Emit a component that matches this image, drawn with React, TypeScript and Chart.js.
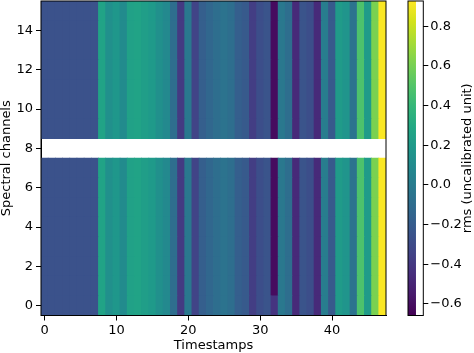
import React, { useEffect, useRef } from "react";
import { Chart, registerables } from "chart.js";
Chart.register(...registerables);

// ---- data ----
const channelCount = 16;
const missingChannel = 8;
// rms value of each timestamp (same for every spectral channel)
const rmsByTimestamp = [
  -0.26, -0.26, -0.26, -0.26, -0.26, -0.26, -0.26, -0.26,
  0.26, 0.135, 0.18, 0.1,
  0.245, 0.26, 0.23, 0.2, 0.135, 0.09,
  -0.09, -0.39, -0.025, -0.34, -0.18, -0.135,
  -0.09, -0.06, -0.09, -0.18, -0.21, -0.37,
  -0.28, -0.25, -0.61, -0.025, -0.09, -0.47,
  -0.25, -0.28, -0.47, 0.01, -0.21, 0.21,
  0.165, -0.06, 0.48, 0.21, 0.61, 0.92,
];
// channel 0 differs at a few timestamps: [timestamp, value]
const channel0Overrides = [[32, -0.42]];
const colorMin = -0.658;
const colorMax = 0.927;
const xTickValues = [0, 10, 20, 30, 40];
const yTickValues = [0, 2, 4, 6, 8, 10, 12, 14];
const cbTickValues = [-0.6, -0.4, -0.2, 0, 0.2, 0.4, 0.6, 0.8];
const xLabel = "Timestamps";
const yLabel = "Spectral channels";
const cbLabel = "rms (uncalibrated unit)";

const VIRIDIS = [
  "#440154", "#481a6c", "#472f7d", "#414487", "#39568c", "#31688e", "#2a788e", "#23888e",
  "#1f988b", "#22a884", "#35b779", "#54c568", "#7ad151", "#a5db36", "#d2e21b", "#fde725",
];
function hexToRgb(h: string) {
  return [parseInt(h.slice(1, 3), 16), parseInt(h.slice(3, 5), 16), parseInt(h.slice(5, 7), 16)];
}
const VIR_RGB = VIRIDIS.map(hexToRgb);
function viridis(t: number) {
  t = Math.max(0, Math.min(1, t));
  const p = t * (VIR_RGB.length - 1);
  const i = Math.min(Math.floor(p), VIR_RGB.length - 2);
  const f = p - i;
  const a = VIR_RGB[i], b = VIR_RGB[i + 1];
  const c = a.map((v, k) => Math.round(v + (b[k] - v) * f));
  return `rgb(${c[0]},${c[1]},${c[2]})`;
}
function colorFor(v: number) {
  return viridis((v - colorMin) / (colorMax - colorMin));
}
function cellValue(ch: number, t: number) {
  if (ch === 0) {
    const o = channel0Overrides.find((p) => p[0] === t);
    if (o) return o[1];
  }
  return rmsByTimestamp[t];
}

const FONT = { family: "'DejaVu Sans', sans-serif", size: 13 };

const framePlugin = {
  id: "frame",
  afterDraw(chart: any) {
    const { ctx, chartArea: a } = chart;
    ctx.save();
    ctx.strokeStyle = "#000";
    ctx.lineWidth = 1;
    ctx.strokeRect(a.left, a.top, a.right - a.left, a.bottom - a.top);
    ctx.restore();
  },
};

const cbTitlePlugin = {
  id: "cbTitle",
  afterDraw(chart: any) {
    const { ctx, chartArea: a } = chart;
    ctx.save();
    ctx.translate(68, (a.top + a.bottom) / 2);
    ctx.rotate(-Math.PI / 2);
    ctx.font = "13px 'DejaVu Sans', sans-serif";
    ctx.fillStyle = "#000";
    ctx.textAlign = "center";
    ctx.textBaseline = "middle";
    ctx.fillText(cbLabel, 0, 0);
    ctx.restore();
  },
};

const setTicks = (vals: number[]) => (s: any) => {
  s.ticks = vals.map((v) => ({ value: v }));
};
const fixSize = (w: number | null, h: number | null) => (s: any) => {
  if (w !== null) s.width = w;
  if (h !== null) s.height = h;
  s.paddingTop = 0;
  s.paddingBottom = 0;
  s.paddingLeft = 0;
  s.paddingRight = 0;
};

export default function App() {
  const mainRef = useRef<HTMLCanvasElement>(null);
  const cbRef = useRef<HTMLCanvasElement>(null);

  useEffect(() => {
    const timestamps = rmsByTimestamp.map((_, i) => i);
    const datasets: any[] = [];
    for (let ch = 0; ch < channelCount; ch++) {
      if (ch === missingChannel) continue;
      datasets.push({
        label: `ch${ch}`,
        data: timestamps.map((t) => ({ x: t, y: [ch - 0.5, ch + 0.5] })),
        backgroundColor: timestamps.map((t) => colorFor(cellValue(ch, t))),
        borderWidth: 0,
        barPercentage: 1,
        categoryPercentage: 1,
        grouped: false,
        inflateAmount: 0.4,
      });
    }
    const main = new Chart(mainRef.current!, {
      type: "bar",
      data: { datasets },
      plugins: [framePlugin],
      options: {
        animation: false,
        responsive: false,
        maintainAspectRatio: false,
        layout: { padding: { top: 1, right: 88, left: 0, bottom: 0 } },
        plugins: { legend: { display: false }, tooltip: { enabled: false } },
        scales: {
          x: {
            type: "linear",
            min: -0.5,
            max: 47.5,
            offset: false,
            afterBuildTicks: setTicks(xTickValues),
            ticks: { color: "#000", font: FONT, padding: 2, maxRotation: 0, autoSkip: false },
            grid: { display: true, offset: false, drawOnChartArea: false, drawTicks: true, tickLength: 5, color: "#000", lineWidth: 1 },
            border: { display: true, color: "#000", width: 1 },
            title: { display: true, text: xLabel, color: "#000", font: FONT, padding: { top: 0, bottom: 0 } },
            afterFit: fixSize(null, 37.5),
          },
          y: {
            type: "linear",
            min: -0.5,
            max: 15.5,
            afterBuildTicks: setTicks(yTickValues),
            ticks: { color: "#000", font: FONT, padding: 3, autoSkip: false },
            grid: { display: true, drawOnChartArea: false, drawTicks: true, tickLength: 5, color: "#000", lineWidth: 1 },
            border: { display: true, color: "#000", width: 1 },
            title: { display: true, text: yLabel, color: "#000", font: FONT, padding: { top: -1, bottom: 0 } },
            afterFit: fixSize(41, null),
          },
        },
      } as any,
    });

    const cb = new Chart(cbRef.current!, {
      type: "bar",
      data: {
        labels: ["cb"],
        datasets: [
          {
            data: [[colorMin, colorMax]],
            backgroundColor: (ctx: any) => {
              const a = ctx.chart.chartArea;
              if (!a) return "#888";
              const g = ctx.chart.ctx.createLinearGradient(0, a.bottom, 0, a.top);
              VIRIDIS.forEach((c, i) => g.addColorStop(i / (VIRIDIS.length - 1), c));
              return g;
            },
            borderWidth: 0,
            borderSkipped: false,
            barPercentage: 1,
            categoryPercentage: 1,
          },
        ],
      },
      plugins: [framePlugin, cbTitlePlugin],
      options: {
        animation: false,
        responsive: false,
        maintainAspectRatio: false,
        layout: { padding: { top: 1, bottom: 37.5, left: 8, right: 0 } },
        plugins: { legend: { display: false }, tooltip: { enabled: false } },
        scales: {
          x: { display: false, offset: false },
          y: {
            position: "right",
            min: colorMin,
            max: colorMax,
            afterBuildTicks: setTicks(cbTickValues),
            ticks: {
              color: "#000",
              font: FONT,
              padding: 2,
              autoSkip: false,
              callback: (v: any) => {
                const n = Number(v);
                if (Math.abs(n) < 1e-9) return "0.0";
                return n.toFixed(1).replace("-", "\u2212");
              },
            },
            grid: { display: true, drawOnChartArea: false, drawTicks: true, tickLength: 5, color: "#000", lineWidth: 1 },
            border: { display: false },
            afterFit: fixSize(50.7, null),
          },
        },
      } as any,
    });

    return () => {
      main.destroy();
      cb.destroy();
    };
  }, []);

  return (
    <div style={{ position: "fixed", left: 0, top: 0, width: 474, height: 353, background: "#fff" }}>
      <canvas ref={mainRef} width={474} height={353} style={{ position: "absolute", left: 0, top: 0, display: "block" }} />
      <canvas ref={cbRef} width={74} height={353} style={{ position: "absolute", left: 400, top: 0, display: "block" }} />
    </div>
  );
}
